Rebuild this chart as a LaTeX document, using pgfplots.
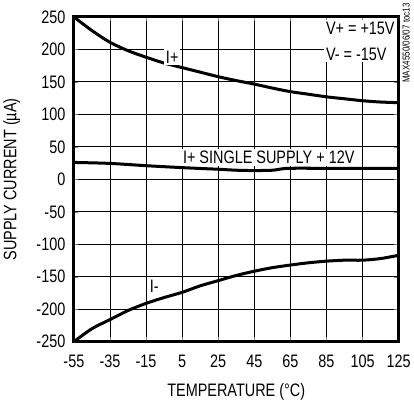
\documentclass[border=0pt]{standalone}
\usepackage{fontspec}
\setmainfont[FakeStretch=0.8]{Liberation Sans}
\usepackage{pgfplots}
\pgfplotsset{compat=1.18}
\newcommand{\lf}{\fontsize{18bp}{22bp}\selectfont}
\begin{document}
\begin{tikzpicture}
\begin{axis}[
  width=324bp, height=324bp, scale only axis,
  xmin=-55, xmax=125, ymin=-250, ymax=250,
  xtick={-55,-35,-15,5,25,45,65,85,105,125},
  ytick={-250,-200,-150,-100,-50,0,50,100,150,200,250},
  /pgf/number format/assume math mode=true,
  /pgf/number format/1000 sep={},
  grid=major,
  major grid style={black, line width=0.9bp},
  axis line style={line width=3bp},
  tick label style={font=\lf},
  xticklabel style={yshift=-10bp},
  yticklabel style={xshift=-5bp},
]
\addplot[black, line width=3bp, smooth] coordinates {
(-55,250) (-45,229) (-35,211) (-25,198) (-15,188) (-5,179) (5,172) (15,165) (25,158) (35,152) (45,146.6) (55,140.5) (65,135) (75,131) (85,127) (95,124) (105,121) (115,119) (125,118)};
\addplot[black, line width=3bp, smooth] coordinates {
(-55,26) (-35,24.5) (-15,21) (5,18) (25,15.5) (35,14) (45,13.5) (55,14) (60,16) (65,17) (85,17) (105,17) (125,17)};
\addplot[black, line width=3bp, smooth] coordinates {
(-55,-250) (-45,-230) (-35,-216) (-25,-202) (-15,-191) (-5,-182) (5,-174) (15,-164) (25,-156) (35,-148) (45,-141.5) (55,-136) (65,-132) (75,-128.5) (85,-126) (95,-124.5) (105,-124.5) (115,-122) (125,-117)};
\node[fill=white, inner sep=2bp, font=\lf] at (axis cs:-0.5,188) {I+};
\node[fill=white, inner sep=2bp, font=\lf] at (axis cs:-10.5,-164) {I-};
\node[fill=white, inner xsep=1bp, inner ysep=2bp, font=\lf] at (axis cs:53,34) {I+ SINGLE SUPPLY + 12V};
\node[fill=white, anchor=north east, align=left, inner sep=2bp, font=\fontsize{18bp}{26bp}\selectfont] at (axis cs:124,246) {V+ = +15V\\V- = -15V};
\end{axis}
\node[rotate=90, font=\lf] at ([xshift=-62bp]current axis.west) {SUPPLY CURRENT (µA)};
\node[font=\lf] at ([yshift=-50bp]current axis.south) {TEMPERATURE (°C)};
\node[rotate=90, font=\fontsize{10bp}{11bp}\selectfont] at ([xshift=7.5bp,yshift=-26bp]current axis.north east) {MAX4550/06/07 toc13};
\end{tikzpicture}
\end{document}
